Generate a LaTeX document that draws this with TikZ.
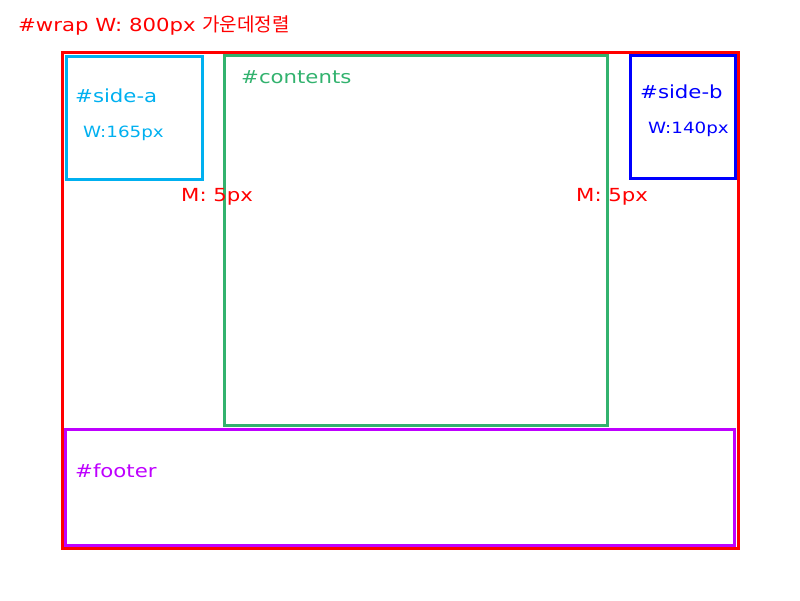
\documentclass[tikz,border=0pt]{standalone}
\usepackage{fontspec}
\newfontfamily\hand[FakeStretch=1.18]{DejaVu Sans}
\newfontfamily\kor[FakeStretch=1.0]{Noto Sans CJK KR}
\definecolor{cred}{RGB}{255,0,0}
\definecolor{ccyan}{RGB}{0,176,240}
\definecolor{cgreen}{RGB}{50,178,110}
\definecolor{cblue}{RGB}{0,0,255}
\definecolor{cpurple}{RGB}{190,0,255}
\tikzset{
  frame/.style={draw=#1, line width=3pt, inner sep=0pt, outer sep=0pt, rectangle},
  lbl/.style={text=#1, font=\hand\fontsize{18}{20}\selectfont, inner sep=0pt, anchor=base west},
  small/.style={font=\hand\fontsize{15.5}{18}\selectfont}
}
\begin{document}
\begin{tikzpicture}[x=1pt,y=-1pt]
\useasboundingbox (0,0) rectangle (800,600);
% boxes
\node[frame=cred, minimum width=675.5pt, minimum height=495.5pt] (wrap) at (400.25,300.25) {};
\node[frame=ccyan, minimum width=136pt, minimum height=123pt] (sidea) at (134.5,118) {};
\node[frame=cgreen, minimum width=383pt, minimum height=369.5pt] (contents) at (416,240.25) {};
\node[frame=cblue, minimum width=105pt, minimum height=123pt] (sideb) at (683,117) {};
\node[frame=cpurple, minimum width=669pt, minimum height=116pt] (footer) at (400,487.5) {};
% labels
\node[lbl=cred] (title) at (18,31) {\#wrap W: 800px {\kor\fontsize{19}{21}\selectfont 가운데정렬}};
\node[lbl=cgreen] (tcontents) at (241,83) {\#contents};
\node[lbl=ccyan] (tsidea) at (75,102) {\#side-a};
\node[lbl=ccyan, small] (wsidea) at (83,137) {W:165px};
\node[lbl=cblue] (tsideb) at (640,98) {\#side-b};
\node[lbl=cblue, small] (wsideb) at (648,133) {W:140px};
\node[lbl=cred] (m1) at (181,201) {M: 5px};
\node[lbl=cred] (m2) at (576,201) {M: 5px};
\node[lbl=cpurple] (tfooter) at (75,477) {\#footer};
\end{tikzpicture}
\end{document}
